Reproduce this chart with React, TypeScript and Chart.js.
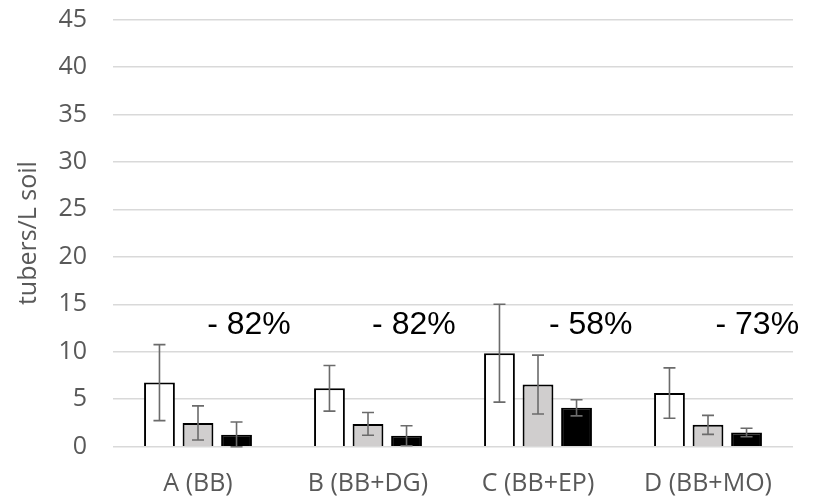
import React, { useEffect, useRef } from "react";
import { Chart, registerables } from "chart.js";

Chart.register(...registerables);

const categories = ["A (BB)", "B (BB+DG)", "C (BB+EP)", "D (BB+MO)"];

const series1 = [6.75, 6.15, 9.85, 5.65];
const series1Err = [4.0, 2.4, 5.15, 2.65];
const series2 = [2.5, 2.4, 6.55, 2.3];
const series2Err = [1.8, 1.2, 3.1, 1.0];
const series3 = [1.25, 1.15, 4.1, 1.5];
const series3Err = [1.35, 1.05, 0.85, 0.45];

const reductionLabels = ["- 82%", "- 82%", "- 58%", "- 73%"];
const reductionOffsets = [0.3, 0.27, 0.31, 0.29];
const reductionLevel = 12.8;

const yMin = 0;
const yMax = 45;
const yStep = 5;

const FONT = "'Open Sans', sans-serif";

const errorBarPlugin = {
  id: "errorBars",
  afterDatasetsDraw(chart: any) {
    const ctx = chart.ctx;
    const y = chart.scales.y;
    ctx.save();
    ctx.strokeStyle = "#6b6b6b";
    ctx.lineWidth = 1.6;
    chart.data.datasets.forEach((ds: any, di: number) => {
      const meta = chart.getDatasetMeta(di);
      meta.data.forEach((bar: any, i: number) => {
        const v = ds.data[i];
        const e = ds.errors[i];
        const yt = y.getPixelForValue(v + e);
        const yb = y.getPixelForValue(Math.max(v - e, yMin));
        const x = bar.x;
        const cap = 6;
        ctx.beginPath();
        ctx.moveTo(x, yt);
        ctx.lineTo(x, yb);
        ctx.moveTo(x - cap, yt);
        ctx.lineTo(x + cap, yt);
        ctx.moveTo(x - cap, yb);
        ctx.lineTo(x + cap, yb);
        ctx.stroke();
      });
    });
    ctx.restore();
  },
};

const annotationPlugin = {
  id: "reductionLabels",
  afterDraw(chart: any) {
    const ctx = chart.ctx;
    const xs = chart.scales.x;
    const ys = chart.scales.y;
    ctx.save();
    ctx.fillStyle = "#000000";
    ctx.font = "32px 'Liberation Sans', Arial, sans-serif";
    ctx.textAlign = "center";
    ctx.textBaseline = "middle";
    reductionLabels.forEach((t, i) => {
      const x = xs.getPixelForValue(i + reductionOffsets[i]);
      const yy = ys.getPixelForValue(reductionLevel);
      ctx.fillText(t, x, yy);
    });
    ctx.restore();
  },
};

export default function App() {
  const ref = useRef<HTMLCanvasElement | null>(null);

  useEffect(() => {
    document.body.style.margin = "0";
    const canvas = ref.current;
    if (!canvas) return;
    const chart = new Chart(canvas, {
      type: "bar",
      data: {
        labels: categories,
        datasets: [
          {
            label: "s1",
            data: series1,
            errors: series1Err,
            backgroundColor: "#ffffff",
            borderColor: "#000000",
            borderWidth: 2,
          } as any,
          {
            label: "s2",
            data: series2,
            errors: series2Err,
            backgroundColor: "#d0cece",
            borderColor: "#000000",
            borderWidth: 2,
          } as any,
          {
            label: "s3",
            data: series3,
            errors: series3Err,
            backgroundColor: "#000000",
            borderColor: "#000000",
            borderWidth: 2,
          } as any,
        ],
      },
      options: {
        responsive: false,
        animation: false,
        devicePixelRatio: 1,
        datasets: {
          bar: { categoryPercentage: 0.68, barPercentage: 0.8 },
        },
        layout: { autoPadding: false, padding: { top: 19.5, right: 22, left: 0, bottom: 0 } },
        plugins: {
          legend: { display: false },
          tooltip: { enabled: false },
          title: { display: false },
        },
        scales: {
          x: {
            grid: { display: false, drawTicks: false },
            border: { display: false },
            ticks: {
              color: "#595959",
              font: { family: FONT, size: 25 },
              padding: 22,
            },
            afterFit: (scale: any) => {
              scale.height = 54.3;
              scale.paddingLeft = 0;
              scale.paddingRight = 0;
            },
          },
          y: {
            min: yMin,
            max: yMax,
            ticks: {
              stepSize: yStep,
              color: "#595959",
              font: { family: FONT, size: 25 },
              padding: 26,
            },
            grid: { color: "#d9d9d9", lineWidth: 1.5, drawTicks: false },
            border: { display: false },
            title: {
              display: true,
              text: "tubers/L soil",
              color: "#595959",
              font: { family: FONT, size: 25 },
              padding: { top: 14, bottom: 0 },
            },
            afterFit: (scale: any) => {
              scale.width = 113;
              scale.paddingTop = 0;
              scale.paddingBottom = 0;
            },
          },
        },
      } as any,
      plugins: [errorBarPlugin, annotationPlugin],
    });
    return () => chart.destroy();
  }, []);

  return (
    <div style={{ position: "absolute", left: 0, top: 0, width: 815, height: 501 }}>
      <canvas ref={ref} width={815} height={501} />
    </div>
  );
}
